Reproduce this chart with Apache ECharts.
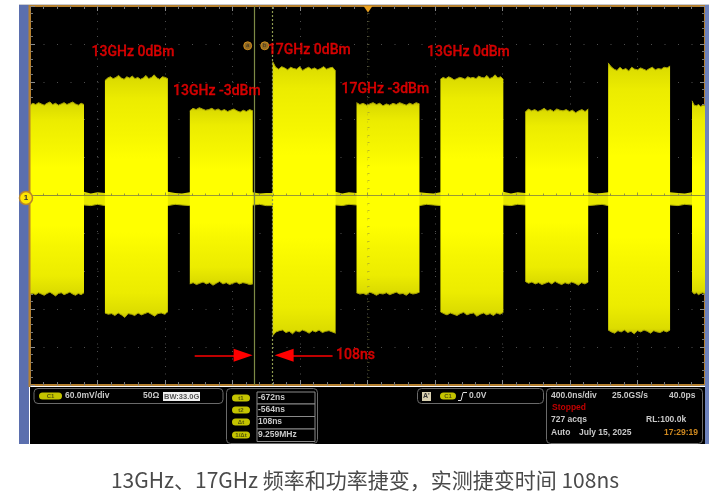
<!DOCTYPE html>
<html><head><meta charset="utf-8">
<style>html,body{margin:0;padding:0;background:#fff}#c{width:726px;height:494px}
#soft{position:absolute;left:0;top:0;width:726px;height:446px;backdrop-filter:blur(0.4px);pointer-events:none}</style>
<script src="https://cdn.jsdelivr.net/npm/echarts@6/dist/echarts.min.js"></script>
</head><body><div id="c"></div><div id="soft"></div>
<script>
// Burst edges in ns (400 ns/div, trigger at 0)
const burstStart = [-2000,-1556,-1053,-562,-65,432,935,1426,1923];
const burstEnd   = [-1680,-1183,-680,-189,308,805,1308,1793,2000];
// Envelope values in mV (60 mV/div)
const upper0 = [143,146,144,147,145,143,146,148,144,146,143,145,147,144,146,148,145,143,146,144];
const lower0 = [-156,-155,-157,-154,-156,-158,-155,-153,-156,-159,-155,-154,-157,-155,-153,-156,-158,-155,-157,-154];
const upper1 = [182,186,188,185,187,190,186,184,188,186,189,185,187,184,186,190,185,187,191,186,184,188,187,185];
const lower1 = [-186,-188,-187,-190,-186,-189,-193,-187,-188,-190,-186,-189,-187,-185,-188,-191,-187,-186,-188,-184];
const upper2 = [134,138,136,139,137,135,136,138,135,137,134,136,133,135,137,134,132,135,133,136,134];
const lower2 = [-140,-138,-141,-139,-137,-140,-138,-142,-139,-136,-140,-138,-141,-139,-137,-140,-138,-139,-141,-140];
const upper3 = [212,203,200,204,202,199,203,201,200,204,198,201,203,200,202,199,201,204,200,202,203,197];
const lower3 = [-222,-216,-214,-213,-217,-215,-219,-214,-216,-213,-215,-218,-214,-216,-213,-217,-215,-214,-216,-218];
const upper4 = [147,144,146,143,145,147,144,146,142,145,143,146,144,147,145,143,146,144,147,145];
const lower4 = [-154,-156,-155,-157,-153,-155,-158,-155,-156,-154,-157,-155,-153,-156,-155,-158,-154,-156,-155,-153];
const upper5 = [184,187,185,188,186,183,185,187,186,184,188,186,187,185,189,187,186,190,185,187,191,186,188,184];
const lower5 = [-184,-187,-189,-186,-188,-190,-187,-185,-189,-187,-186,-191,-188,-186,-189,-187,-190,-186,-188,-185];
const upper6 = [132,137,134,136,133,135,138,134,136,133,137,135,134,136,133,135,131,134,136,133,137];
const lower6 = [-136,-139,-137,-140,-138,-141,-139,-137,-140,-136,-139,-141,-138,-140,-137,-139,-142,-138,-140,-137];
const upper7 = [210,204,200,198,203,199,201,197,203,200,199,202,200,198,201,203,199,201,200,203,202,205];
const lower7 = [-213,-216,-218,-214,-216,-213,-217,-215,-219,-214,-216,-213,-215,-218,-214,-216,-217,-214,-216,-213];
const upper8 = [150,143,142,144,141,143,142];
const lower8 = [-152,-156,-154,-157,-155,-154,-156];
// Residual carrier between bursts
const residualTime  = [-1680,-1640,-1600,-1556,-1183,-1140,-1100,-1053,-680,-640,-600,-562,-189,-150,-110,-65,308,350,390,432,805,850,890,935,1308,1350,1390,1426,1793,1840,1880,1923];
const residualUpper = [6,3,5,4,6,4,3,5,5,3,4,4,6,3,5,4,5,4,3,5,6,3,5,4,5,3,4,5,5,4,3,5];
const residualLower = [-15,-16,-14,-16,-16,-14,-15,-16,-15,-14,-16,-16,-15,-16,-14,-15,-16,-14,-15,-16,-15,-16,-14,-15,-16,-15,-14,-16,-15,-16,-14,-15];
// Cursors and annotations
const cursorTimes = [-672,-564];
const cursorLetters = ['a','b'];
const cursorMarkerTimes = [-710,-609];
const cursorMarkerLevel = 237;
const annotationText = ['13GHz 0dBm','13GHz -3dBm','17GHz 0dBm','17GHz -3dBm','13GHz 0dBm','108ns'];
const annotationTime = [-1390,-893,-345,106,598,-71];
const annotationLevel = [226,165,230,168,226,-253];
const arrowLevel = -253;
const arrowLeftFrom = -1024, arrowLeftTo = -737, arrowRightFrom = -207, arrowRightTo = -494;
const caption = '13GHz、17GHz 频率和功率捷变，实测捷变时间 108ns';

const uppers=[upper0,upper1,upper2,upper3,upper4,upper5,upper6,upper7,upper8];
const lowers=[lower0,lower1,lower2,lower3,lower4,lower5,lower6,lower7,lower8];
const pts=(vals,i)=>vals.map((v,k)=>[burstStart[i]+(burstEnd[i]-burstStart[i])*k/(vals.length-1),v]);
const grad=(up)=>{
  const s=[[0,'#c4c000'],[0.04,'#dcdc00'],[0.2,'#ecec00'],[0.5,'#f6f600'],[0.7,'#ffff00'],[1,'#ffff00']];
  return {type:'linear',x:0,y:up?0:1,x2:0,y2:up?1:0,colorStops:s.map(a=>({offset:a[0],color:a[1]}))};
};
const envelope=(data,up)=>({type:'line',xAxisIndex:0,yAxisIndex:0,data,showSymbol:false,silent:true,z:2,
  lineStyle:{width:1,color:'#a8a400'},areaStyle:{color:grad(up),opacity:1,origin:0},animation:false});
const series=[];
series.push({type:'line',xAxisIndex:0,yAxisIndex:0,data:residualTime.map((t,i)=>[t,residualUpper[i]]),showSymbol:false,z:1,
  lineStyle:{width:0},areaStyle:{color:'#d8d800',opacity:1,origin:0}});
series.push({type:'line',xAxisIndex:0,yAxisIndex:0,data:residualTime.map((t,i)=>[t,residualLower[i]]),showSymbol:false,z:1,
  lineStyle:{width:1,color:'#b0b000'},areaStyle:{color:'#e8e800',opacity:1,origin:0}});
uppers.forEach((u,i)=>series.push(envelope(pts(u,i),true)));
lowers.forEach((l,i)=>series.push(envelope(pts(l,i),false)));
// cursors
series.push({type:'line',xAxisIndex:0,yAxisIndex:0,data:[],z:6,
  markLine:{silent:true,symbol:'none',animation:false,label:{show:false},data:[
    {xAxis:cursorTimes[0],lineStyle:{color:'#7d8a45',width:1.2,type:'solid'}},
    {xAxis:cursorTimes[1],lineStyle:{color:'#8e9a50',width:1.2,type:[2,2]}}]}});
// cursor letters
series.push({type:'scatter',xAxisIndex:0,yAxisIndex:0,z:7,symbolSize:8,
  itemStyle:{color:'#b8862a',borderColor:'#e09a20',borderWidth:1},
  label:{show:true,position:'inside',formatter:p=>cursorLetters[p.dataIndex],fontSize:6,color:'#222',fontFamily:'Liberation Sans'},
  data:cursorMarkerTimes.map(t=>[t,cursorMarkerLevel])});
// arrows
series.push({type:'line',xAxisIndex:0,yAxisIndex:0,data:[],z:8,
  markLine:{silent:true,animation:false,symbol:['none','triangle'],symbolSize:[13,19],label:{show:false},
    lineStyle:{color:'#ff0000',width:1.6,type:'solid'},
    data:[[{coord:[arrowLeftFrom,arrowLevel]},{coord:[arrowLeftTo,arrowLevel]}],
          [{coord:[arrowRightFrom,arrowLevel]},{coord:[arrowRightTo,arrowLevel]}]]}});
// annotations
series.push({type:'scatter',xAxisIndex:0,yAxisIndex:0,z:20,symbolSize:1,silent:true,itemStyle:{color:'rgba(0,0,0,0)'},
  labelLayout:{hideOverlap:false},
  label:{show:true,position:'inside',align:'center',verticalAlign:'middle',formatter:p=>annotationText[p.dataIndex],
    fontFamily:'Roboto',fontWeight:500,fontSize:14,color:'#ff0000',textBorderColor:'#ff0000',textBorderWidth:0.3},
  data:annotationTime.map((t,i)=>[t,annotationLevel[i]])});

const T=(x,y,text,o={})=>({type:'text',z:60,x,y,style:Object.assign({text,fill:'#c8c8c8',font:'bold 8.5px "Liberation Sans"',textVerticalAlign:'middle'},o)});
const box=(x,y,w,h)=>({type:'rect',z:55,shape:{x,y,width:w,height:h,r:4},style:{fill:'#000',stroke:'#6a6a6a',lineWidth:1}});
const pill=(x,y,w,t)=>[{type:'rect',z:58,shape:{x,y:y-3.5,width:w,height:7,r:3.5},style:{fill:'#c4c400'}},
  {type:'text',z:60,x:x+w/2,y,style:{text:t,fill:'#55550a',font:'bold 6px "Liberation Sans"',textAlign:'center',textVerticalAlign:'middle'}}];
const cell=(x,y,w,h)=>({type:'rect',z:58,shape:{x,y,width:w,height:h},style:{fill:'#000',stroke:'#8a8a8a',lineWidth:1}});
const graphic=[
  {type:'rect',z:-1,silent:true,shape:{x:19,y:4,width:690,height:2},style:{fill:'#c9ccd3'}},
  {type:'rect',z:50,shape:{x:19,y:5,width:10,height:439},style:{fill:'#5b6fae'}},
  {type:'rect',z:50,shape:{x:705,y:5,width:4,height:439},style:{fill:'#6d82bd'}},
  {type:'rect',z:51,shape:{x:30,y:387,width:675,height:57},style:{fill:'#000'}},
  {type:'rect',z:51,shape:{x:28.5,y:5,width:2,height:382},style:{fill:'#b5802f'}},
  {type:'polygon',z:52,shape:{points:[[363.5,6],[372.5,6],[368,12.5]]},style:{fill:'#e8a020'}},
  {type:'circle',z:52,shape:{cx:26,cy:198,r:6.5},style:{fill:'#ffe600',stroke:'#b8862a',lineWidth:1.5}},
  {type:'text',z:53,x:26,y:198,style:{text:'1',fill:'#333',font:'bold 8px "Liberation Sans"',textAlign:'center',textVerticalAlign:'middle'}},
  box(34,388.5,189,15),
  ...pill(39,396,23,'C1'),
  T(65,396,'60.0mV/div'),T(143,396,'50Ω'),
  {type:'rect',z:58,shape:{x:163,y:392,width:37,height:9},style:{fill:'#f0f0f0'}},
  T(164,396.5,'BW:33.0G',{fill:'#555',font:'bold 7.5px "Liberation Sans"'}),
  box(226.5,388.5,91,55),
  cell(257,392,58,12),cell(257,404,58,12.5),cell(257,416.5,58,12.5),cell(257,429,58,12.5),
  ...pill(232,398,18,'t1'),...pill(232,410,18,'t2'),...pill(232,422,18,'Δt'),...pill(232,435,18,'1/Δt'),
  T(258,398,'-672ns'),T(258,410,'-564ns'),T(258,422,'108ns'),T(258,435,'9.259MHz'),
  box(417.5,388.5,126,15),
  {type:'rect',z:58,shape:{x:422,y:392,width:9,height:9},style:{fill:'#d8d0b0'}},
  T(423,396.5,"A'",{fill:'#333',font:'bold 7px "Liberation Sans"'}),
  ...pill(440,396,16,'C1'),
  {type:'polyline',z:60,shape:{points:[[458,400.5],[461,400.5],[463,392.5],[467,392.5]]},style:{stroke:'#ddd',fill:'none',lineWidth:1}},
  T(469,396,'0.0V'),
  box(546.5,388.5,156,55),
  T(551,396,'400.0ns/div'),T(612,396,'25.0GS/s'),T(669,396,'40.0ps'),
  T(552,408,'Stopped',{fill:'#c00000'}),
  T(551,420,'727 acqs'),T(646,420,'RL:100.0k'),
  T(551,433,'Auto'),T(579,433,'July 15, 2025'),T(664,433,'17:29:19',{fill:'#d08a20'}),
  {type:'text',z:60,x:365,y:480,style:{text:caption,fill:'#4a4a4a',font:'21px "Noto Sans CJK SC"',textAlign:'center',textVerticalAlign:'middle'}}
];
const tick={show:true,inside:true,length:5,lineStyle:{color:'#8a8a8a',width:1}};
const minor={show:true,splitNumber:5,length:3,lineStyle:{color:'#777',width:1}};
const edge={show:false,onZero:false};
const xBase={type:'value',min:-2000,max:2000,interval:400,axisLabel:{show:false}};
const yBase={type:'value',min:-300,max:300,interval:60,axisLabel:{show:false}};
const rect={left:30,right:21,top:6,height:379};
const chart=echarts.init(document.getElementById('c'),null,{renderer:'canvas'});
chart.setOption({
  animation:false,backgroundColor:'#fff',
  grid:[Object.assign({show:true,backgroundColor:'#000',borderColor:'#b5802f',borderWidth:2},rect),Object.assign({show:false},rect)],
  xAxis:[
    Object.assign({},xBase,{gridIndex:0,position:'bottom',axisLine:edge,axisTick:tick,minorTick:minor,
      splitLine:{show:true,lineStyle:{color:'rgba(130,130,130,.6)',width:1,type:[1,6.5]}}}),
    Object.assign({},xBase,{gridIndex:0,position:'top',axisLine:edge,axisTick:tick,minorTick:minor,splitLine:{show:false}}),
    Object.assign({},xBase,{gridIndex:1,z:5,axisLine:{show:true,onZero:true,lineStyle:{color:'rgba(125,125,70,.75)',width:1}},
      axisTick:{show:true,inside:true,length:3,lineStyle:{color:'rgba(125,125,70,.8)'}},minorTick:{show:true,splitNumber:5,length:2,lineStyle:{color:'rgba(125,125,70,.8)'}},splitLine:{show:false}})
  ],
  yAxis:[
    Object.assign({},yBase,{gridIndex:0,position:'left',axisLine:edge,axisTick:tick,minorTick:minor,
      splitLine:{show:true,lineStyle:{color:'rgba(130,130,130,.6)',width:1,type:[1,12.5]}}}),
    Object.assign({},yBase,{gridIndex:0,position:'right',axisLine:edge,axisTick:tick,minorTick:minor,splitLine:{show:false}}),
    Object.assign({},yBase,{gridIndex:1,z:5,axisLine:{show:true,onZero:true,lineStyle:{color:'rgba(125,125,70,.2)',width:1,type:[1,6.5]}},
      axisTick:{show:true,inside:true,length:2,lineStyle:{color:'rgba(125,125,70,.5)'}},minorTick:{show:true,splitNumber:5,length:2,lineStyle:{color:'rgba(125,125,70,.5)'}},splitLine:{show:false}})
  ],
  series:series.concat([{type:'line',xAxisIndex:2,yAxisIndex:2,data:[]}]),
  graphic:graphic
});
</script></body></html>
